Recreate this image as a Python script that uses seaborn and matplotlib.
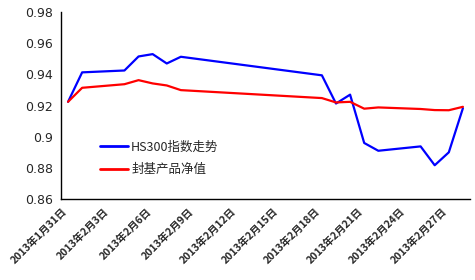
import matplotlib
matplotlib.use("Agg")
import matplotlib.pyplot as plt
import seaborn as sns
import pandas as pd
import numpy as np

# ---- data ----
dates = ["2013-01-31", "2013-02-01", "2013-02-04", "2013-02-05", "2013-02-06",
         "2013-02-07", "2013-02-08", "2013-02-18", "2013-02-19", "2013-02-20",
         "2013-02-21", "2013-02-22", "2013-02-25", "2013-02-26", "2013-02-27",
         "2013-02-28"]
hs300 = [0.9224, 0.9413, 0.9425, 0.9515, 0.9530, 0.9470, 0.9513, 0.9394,
         0.9213, 0.9270, 0.8960, 0.8910, 0.8938, 0.8817, 0.8900, 0.9183]
fund = [0.9224, 0.9314, 0.9337, 0.9363, 0.9342, 0.9329, 0.9299, 0.9248,
        0.9220, 0.9224, 0.9180, 0.9188, 0.9178, 0.9171, 0.9170, 0.9192]
series_names = ["HS300指数走势", "封基产品净值"]
tick_dates = ["2013-01-31", "2013-02-03", "2013-02-06", "2013-02-09", "2013-02-12",
              "2013-02-15", "2013-02-18", "2013-02-21", "2013-02-24", "2013-02-27"]
tick_labels = ["2013年1月31日", "2013年2月3日", "2013年2月6日", "2013年2月9日",
               "2013年2月12日", "2013年2月15日", "2013年2月18日", "2013年2月21日",
               "2013年2月24日", "2013年2月27日"]
y_ticks = [0.86, 0.88, 0.9, 0.92, 0.94, 0.96, 0.98]
y_labels = ["0.86", "0.88", "0.9", "0.92", "0.94", "0.96", "0.98"]

start = pd.Timestamp(dates[0])
day_idx = [(pd.Timestamp(d) - start).days for d in dates]
tick_idx = [(pd.Timestamp(d) - start).days - 0.5 for d in tick_dates]

df = pd.DataFrame({
    "day": day_idx * 2,
    "value": hs300 + fund,
    "series": [series_names[0]] * len(dates) + [series_names[1]] * len(dates),
})

sns.set_style("white")
plt.rcParams["font.family"] = ["Noto Sans CJK SC", "DejaVu Sans"]

fig = plt.figure(figsize=(4.75, 2.8), dpi=100)
ax = fig.add_axes([0.1284, 0.289, 0.861, 0.668])

sns.lineplot(data=df, x="day", y="value", hue="series",
             palette={series_names[0]: "#0000FF", series_names[1]: "#FF0000"},
             linewidth=1.6, ax=ax, sort=False)

ax.set_xlim(-0.5, 28.5)
ax.set_ylim(0.86, 0.98)
ax.set_yticks(y_ticks)
ax.set_yticklabels(y_labels, fontsize=9, family="DejaVu Sans")
ax.set_xticks(tick_idx)
ax.set_xticklabels(tick_labels, rotation=45, ha="right", va="top",
                   rotation_mode="anchor", fontsize=7.5, fontweight="bold")
ax.set_xlabel("")
ax.set_ylabel("")

for s in ["top", "right"]:
    ax.spines[s].set_visible(False)
for s in ["left", "bottom"]:
    ax.spines[s].set_color("black")
    ax.spines[s].set_linewidth(1.0)

ax.tick_params(axis="x", direction="in", length=3, width=1, color="black", pad=5)
ax.tick_params(axis="y", direction="out", length=3, width=1, color="black", pad=3)

leg = ax.legend(loc="center left", bbox_to_anchor=(0.095, 0.2175), frameon=False,
                fontsize=9, handlelength=2.25, handletextpad=0.25,
                labelspacing=0.75, borderpad=0, borderaxespad=0)
for line in leg.get_lines():
    line.set_linewidth(2)

fig.savefig("out.png", dpi=100)
